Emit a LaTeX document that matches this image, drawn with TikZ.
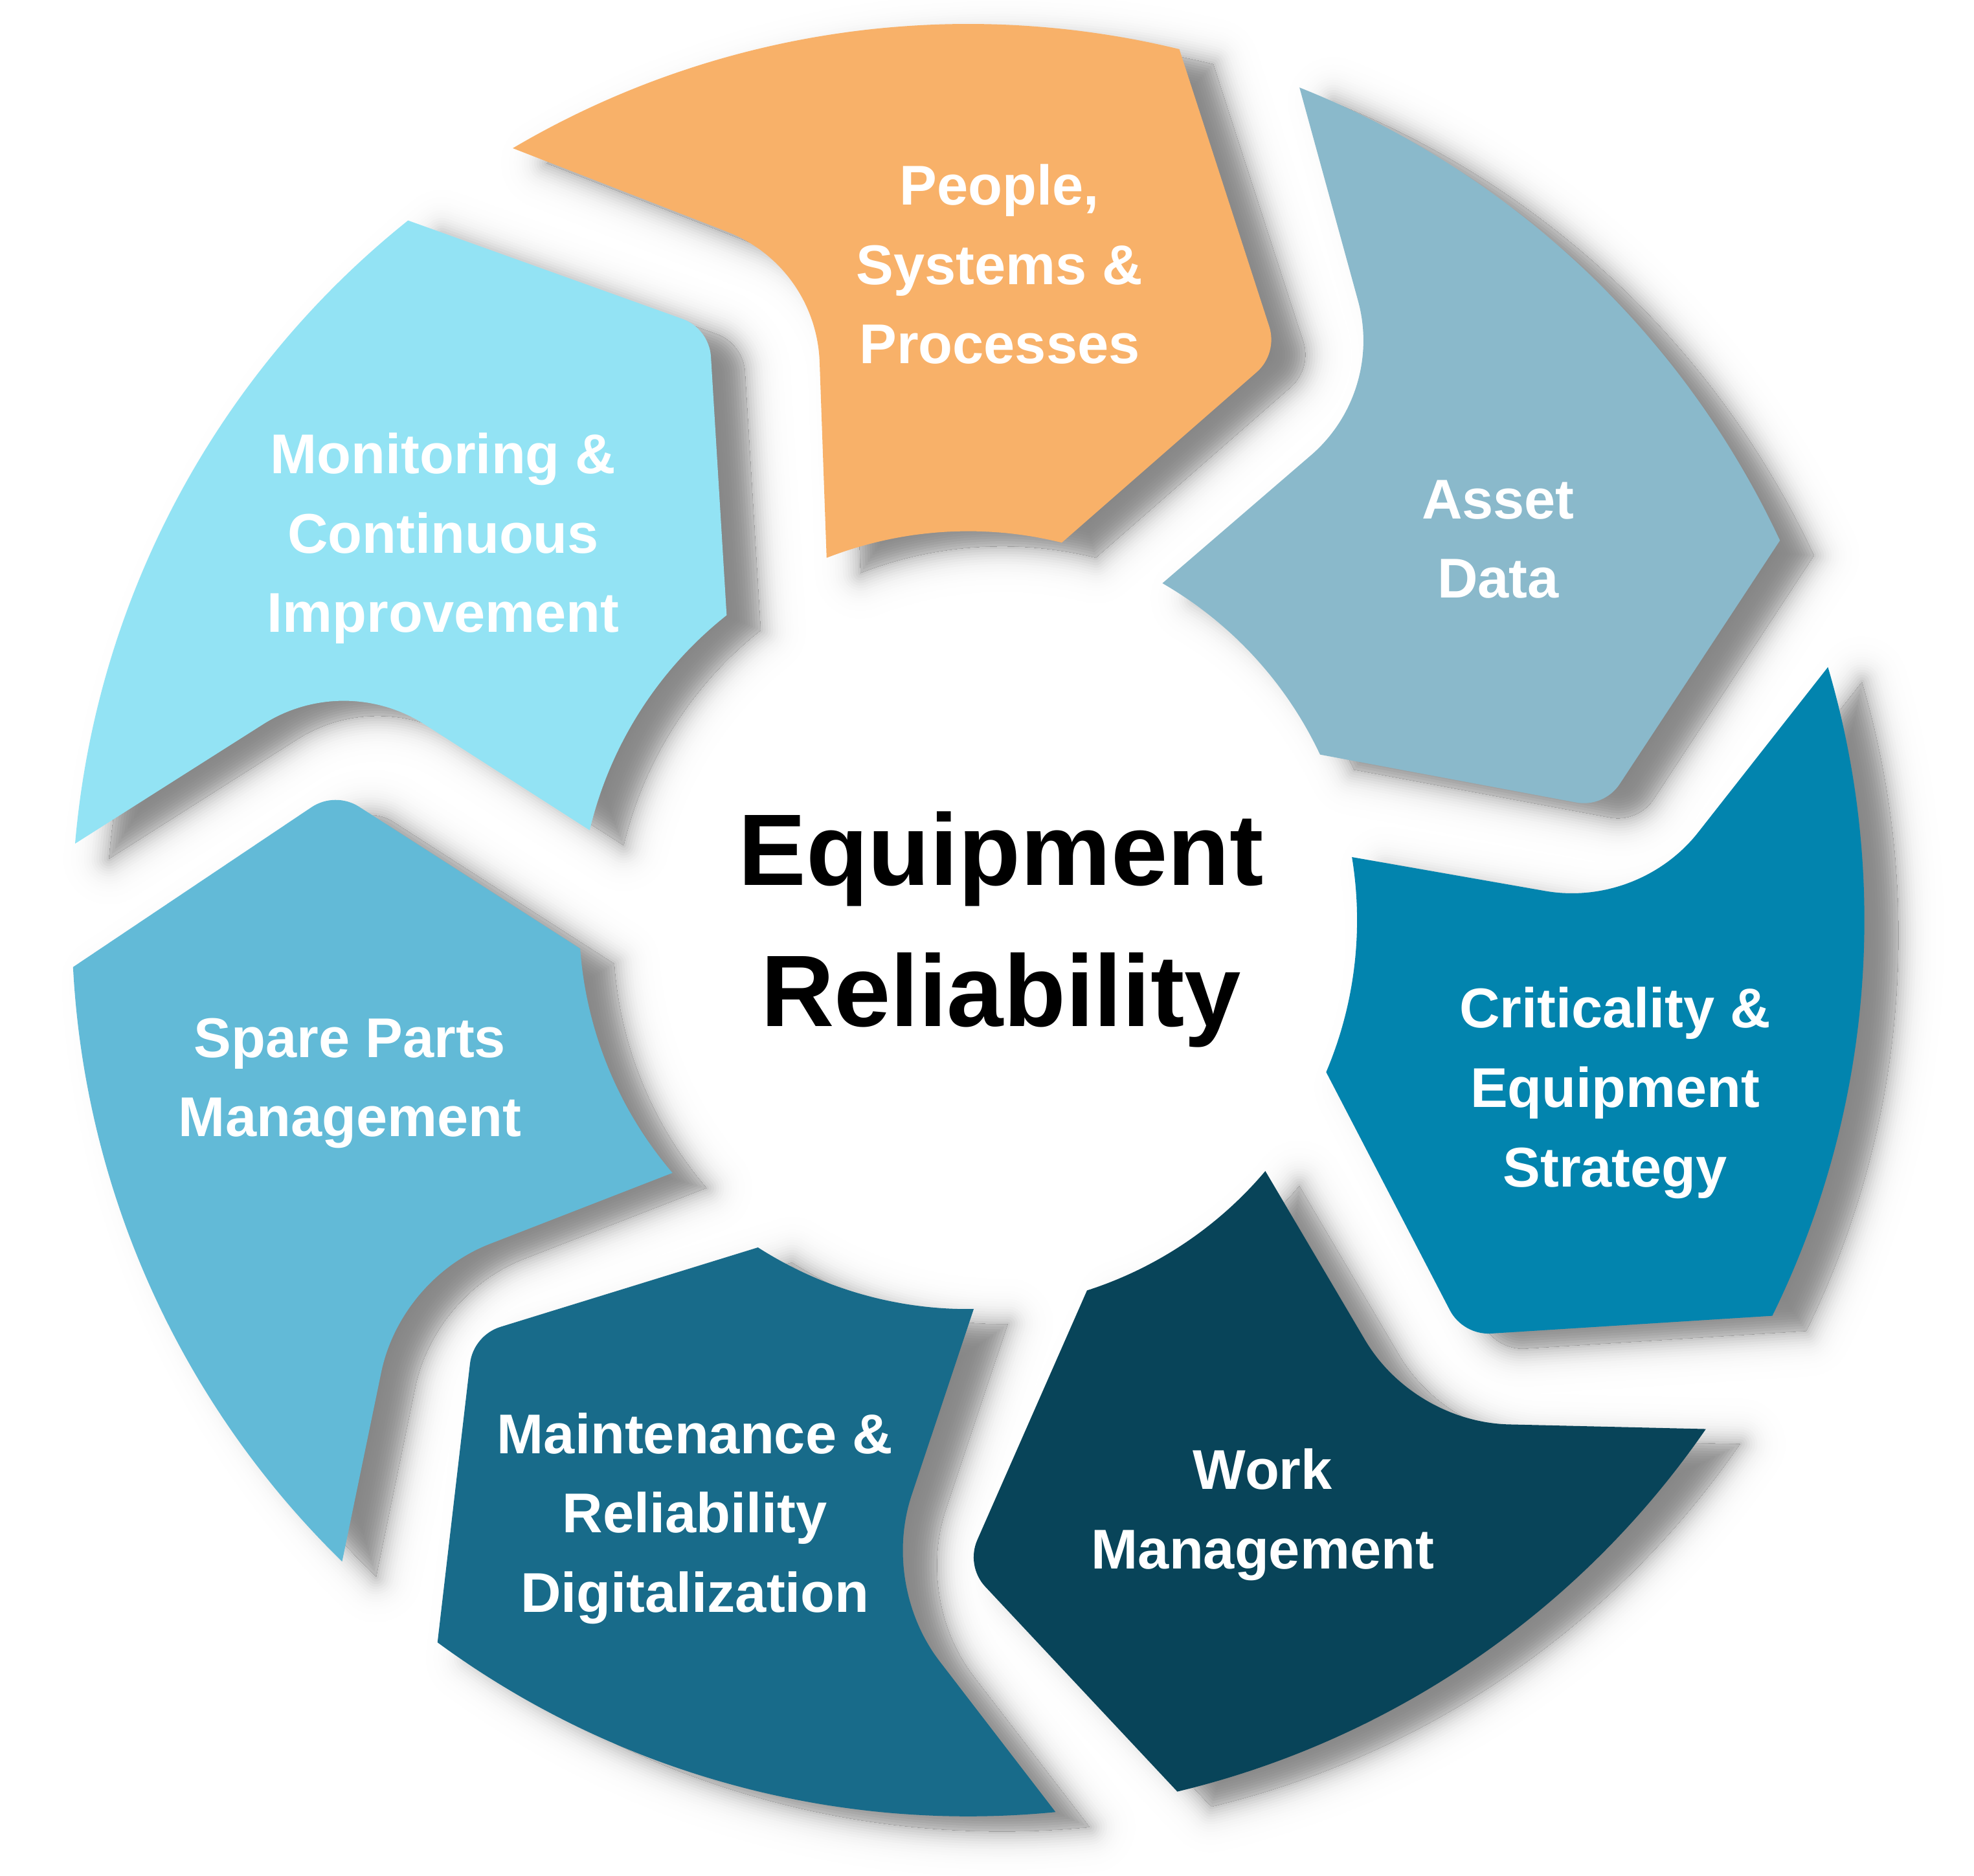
\documentclass[tikz,border=0pt]{standalone}
\usepackage{fontspec}
\setmainfont{Liberation Sans}
\usetikzlibrary{calc}
\definecolor{cOrange}{HTML}{F8B169}
\definecolor{cAsset}{HTML}{8AB9CB}
\definecolor{cCrit}{HTML}{0284AE}
\definecolor{cWork}{HTML}{084459}
\definecolor{cMaint}{HTML}{186B8A}
\definecolor{cSpare}{HTML}{62BAD7}
\definecolor{cMonit}{HTML}{93E3F4}
% one arrow segment in local coordinates
% #1 outer notch corner angle, #2 outer point corner angle, #3 tip angle,
% #4 inner point corner angle, #5 rotation of the notch part
\newcommand\segshape[5]{(#1:712) arc[start angle=#1, end angle=#2, radius=712]
  -- ($(#3:513.1)!0.225cm!(#2:712)$) .. controls ($(#3:513.1)!0.09cm!(#2:712)$) and ($(#3:513.1)!0.09cm!(#4:309)$) .. ($(#3:513.1)!0.225cm!(#4:309)$)
  -- (#4:309) arc[start angle=#4, end angle={111.33+(#5)}, radius=309]
  -- ($({103.08+(#5)}:533.2)!0.759cm!({111.33+(#5)}:309)$) .. controls ($({103.08+(#5)}:533.2)!0.297cm!({111.33+(#5)}:309)$) and ($({103.08+(#5)}:533.2)!0.297cm!(#1:712)$) .. ($({103.08+(#5)}:533.2)!0.759cm!(#1:712)$) -- cycle}
\def\seglist{0/120.53/76.37/61.33/76.07/0, -51.3/119.6/76.37/61.33/76.5/0, -100.5/116.9/74.3/60.5/77.5/-1.5, -150.5/115.9/74.0/60.3/78.3/-1, -200.5/116.1/74.2/60.5/77.8/0, -252.5/118.2/75.5/61.0/76.7/1.7, 52.3/122.8/76.37/61.33/76.07/3}
\begin{document}
\begin{tikzpicture}[x=0.01cm, y=0.01cm,
  lbl/.style={text=white, font=\fontsize{12.66}{17.93}\selectfont\bfseries, align=center, inner sep=0pt},
  ctr/.style={text=black, font=\fontsize{22.96}{31.87}\selectfont\bfseries, align=center, inner sep=0pt},
  shoff/.style={shift={(27,-12)}}]
\useasboundingbox[fill=white] (-769,-759) rectangle (799,731);
% ---- soft shadows: outer part (lightest first, all segments interleaved)
\foreach \h in {36,34,...,2} {
  \pgfmathsetmacro\dk{48/(1+exp(0.14183*\h))}
  \pgfmathsetmacro\lw{\h*0.56906}
  \foreach \rr/\pa/\pb/\pc/\pd/\pe in \seglist {
    \path[fill=black!\dk, draw=black!\dk, line width=\lw pt, line join=round, shoff, rotate=\rr] \segshape{\pa}{\pb}{\pc}{\pd}{\pe};
  }
}
% ---- soft shadows: inner part (clipped to the shifted shape)
\foreach \rr/\pa/\pb/\pc/\pd/\pe in \seglist {
  \begin{scope}[shoff, rotate=\rr]
    \clip \segshape{\pa}{\pb}{\pc}{\pd}{\pe};
    \fill[black!48] \segshape{\pa}{\pb}{\pc}{\pd}{\pe};
    \foreach \ee in {36,34,...,2} {
      \pgfmathsetmacro\dk{48/(1+exp(-0.14183*\ee))}
      \pgfmathsetmacro\lw{\ee*0.56906}
      \path[draw=black!\dk, line width=\lw pt, line join=round] \segshape{\pa}{\pb}{\pc}{\pd}{\pe};
    }
  \end{scope}
}
% ---- segments
\path[fill=cOrange, rotate=0] \segshape{120.53}{76.37}{61.33}{76.07}{0};
\path[fill=cAsset, rotate=-51.3] \segshape{119.6}{76.37}{61.33}{76.5}{0};
\path[fill=cCrit, rotate=-100.5] \segshape{116.9}{74.3}{60.5}{77.5}{-1.5};
\path[fill=cWork, rotate=-150.5] \segshape{115.9}{74.0}{60.3}{78.3}{-1};
\path[fill=cMaint, rotate=-200.5] \segshape{116.1}{74.2}{60.5}{77.8}{0};
\path[fill=cSpare, rotate=-252.5] \segshape{118.2}{75.5}{61.0}{76.7}{1.7};
\path[fill=cMonit, rotate=52.3] \segshape{122.8}{76.37}{61.33}{76.07}{3};
% ---- labels
\node[lbl] (people) at (25,521) {People,\\Systems \&\\Processes};
\node[lbl] (asset) at (421,302.5) {Asset\\Data};
\node[lbl] (crit) at (514,-137.2) {Criticality \&\\Equipment\\Strategy};
\node[lbl] (work) at (234,-472.2) {Work\\Management};
\node[lbl] (maint) at (-217,-475.2) {Maintenance \&\\Reliability\\Digitalization};
\node[lbl] (spare) at (-491,-129.7) {Spare Parts\\Management};
\node[lbl] (monit) at (-417,303.3) {Monitoring \&\\Continuous\\Improvement};
\node[ctr] (center) at (26,-7.5) {Equipment\\Reliability};
\end{tikzpicture}
\end{document}
